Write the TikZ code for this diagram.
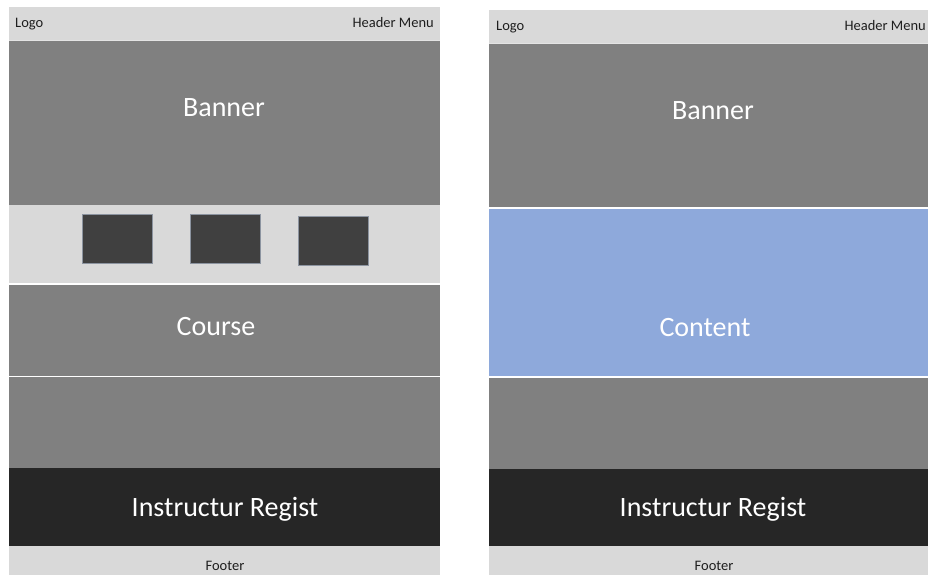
\documentclass[tikz,border=0pt]{standalone}
\usepackage{fontspec}
\setmainfont{Carlito}
\definecolor{bandgrey}{HTML}{808080}
\definecolor{bandlight}{HTML}{D9D9D9}
\definecolor{banddark}{HTML}{262626}
\definecolor{tiledark}{HTML}{404040}
\definecolor{tileedge}{HTML}{8C94A0}
\definecolor{bandblue}{HTML}{8EA9DB}
\definecolor{headtext}{HTML}{1E1E1E}
\tikzset{
  bigtext/.style={text=white, font=\fontsize{28}{30}\selectfont, inner sep=0pt, anchor=base},
  smalltext/.style={text=headtext, font=\fontsize{14.5}{16}\selectfont, inner sep=0pt},
  tile/.style={fill=tiledark, draw=tileedge, line width=0.8pt},
  divider/.style={draw=white, line width=1.6pt}
}
\begin{document}
\begin{tikzpicture}[x=1pt,y=-1pt]
\clip (0,0) rectangle (928,575);
\fill[white] (0,0) rectangle (928,575);

% ---------- left page: home layout ----------
\fill[bandlight] (9,7) rectangle (440,40);
\fill[bandgrey]  (9,40) rectangle (440,205);
\fill[bandlight] (9,205) rectangle (440,284);
\fill[bandgrey]  (9,284) rectangle (440,376);
\fill[bandgrey]  (9,376) rectangle (440,468);
\fill[banddark]  (9,468) rectangle (440,546);
\fill[bandlight] (9,546) rectangle (440,575);
\draw[divider] (9,284) -- (440,284);
\draw[divider] (9,376.5) -- (440,376.5);
\draw[bandlight!70!white, line width=0.6pt] (9,40) -- (440,40);

\draw[tile] (82,214) rectangle (152,263);
\draw[tile] (190,214) rectangle (260,263);
\draw[tile] (298,216) rectangle (368,265);

\node[smalltext, anchor=base west] (logoL) at (15,28) {Logo};
\node[smalltext, anchor=base east] (menuL) at (434,28) {Header Menu};
\node[bigtext] (bannerL) at (224,117) {Banner};
\node[bigtext] (courseL) at (216,335) {Course};
\node[bigtext] (registL) at (225,516) {Instructur Regist};
\node[smalltext, anchor=base] (footerL) at (225,570) {Footer};

% ---------- right page: content layout ----------
\fill[bandlight] (489,10) rectangle (936,43);
\fill[bandgrey]  (489,43) rectangle (936,208);
\fill[bandblue]  (489,208) rectangle (936,377);
\fill[bandgrey]  (489,377) rectangle (936,469);
\fill[banddark]  (489,469) rectangle (936,546);
\fill[bandlight] (489,546) rectangle (936,575);
\draw[divider] (489,208) -- (936,208);
\draw[divider] (489,377) -- (936,377);
\draw[bandlight!70!white, line width=0.6pt] (489,43) -- (936,43);

\node[smalltext, anchor=base west] (logoR) at (496,31) {Logo};
\node[smalltext, anchor=base east] (menuR) at (926,31) {Header Menu};
\node[bigtext] (bannerR) at (713,120) {Banner};
\node[bigtext] (contentR) at (705,336) {Content};
\node[bigtext] (registR) at (713,516) {Instructur Regist};
\node[smalltext, anchor=base] (footerR) at (714,570) {Footer};
\end{tikzpicture}
\end{document}
